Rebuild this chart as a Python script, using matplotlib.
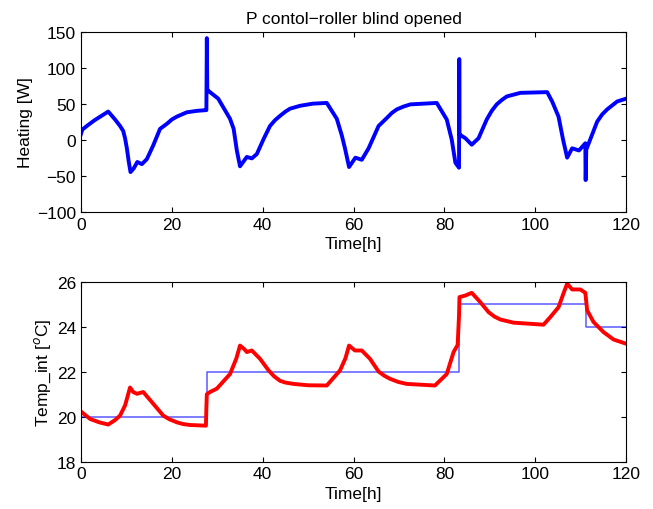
import matplotlib

matplotlib.use("Agg")
import matplotlib.pyplot as plt

# heating power [W]
heat_t = [0, 0.3, 1.5, 3.0, 4.5, 6.0, 7.5, 8.6, 9.3, 9.7, 10.1, 10.5, 10.9, 11.6, 12.4, 13.4,
          14.5, 15.9, 17.4, 18.9, 20.0, 21.1, 22.2, 23.3, 25.5, 27.5, 27.6, 27.7, 27.8, 28.0,
          30.2, 32.8, 33.6, 34.3, 35.0, 36.5, 37.6, 38.7, 40.2, 41.6, 42.7, 43.8, 45.0, 46.0,
          48.2, 51.0, 54.1, 56.3, 57.4, 58.1, 59.0, 60.4, 61.8, 63.3, 65.5, 67.3, 68.4,
          69.5, 71.0, 72.5, 78.3, 80.5, 81.6, 82.4, 83.2, 83.25, 83.3, 83.6, 84.6, 86.0,
          87.5, 89.3, 90.4, 91.5, 92.6, 93.7, 96.7, 102.6, 103.7, 105.1, 106.1, 107.0, 108.1,
          109.6, 111.0, 111.05, 111.1, 111.2, 113.6, 114.7, 115.8, 117.0, 118.0, 120.0]
heat_w = [8, 14, 20, 27, 33, 39, 28, 19, 12, 2, -12, -30, -45, -40, -31, -34,
          -27, -8, 15, 22, 28, 32, 35, 38, 40, 41, 41, 141, 68, 68,
          57, 29, 15, -15, -37, -24, -26, -20, 1, 19, 27, 33, 39, 43,
          47, 50, 51, 29, 6, -12, -38, -25, -28, -12, 19, 30, 37,
          42, 46, 49, 51, 28, 0, -32, -39, 112, 7, 6, 2, -7,
          2, 28, 40, 49, 55, 60, 65, 66, 53, 32, 0, -25, -12,
          -15, -5, -56, -56, -14, 25, 35, 42, 48, 53, 57]

# indoor temperature [C]
temp_t = [0, 2.0, 4.0, 6.0, 7.5, 8.6, 9.7, 10.8, 11.5, 12.3, 13.7, 15.6, 18.1, 19.5, 21.1,
          22.5, 24.0, 27.5, 27.6, 27.7, 28.4, 29.9, 32.8, 34.2, 35.0, 36.0, 36.5, 37.6,
          39.4, 41.3, 42.5, 43.8, 45.0, 46.8, 50.0, 54.1, 57.0, 58.2, 59.0, 60.3, 61.8,
          63.6, 65.5, 66.8, 68.0, 69.8, 71.7, 77.9, 80.5, 82.0, 82.9, 83.2, 83.3, 84.6,
          86.0, 87.9, 89.7, 91.0, 92.3, 95.2, 101.8, 103.3, 105.1, 106.2, 107.0, 108.1,
          109.9, 111.0, 111.4, 112.8, 115.0, 117.2, 120.0]
temp_c = [20.23, 19.9, 19.75, 19.65, 19.85, 20.05, 20.5, 21.3, 21.1, 21.02, 21.1, 20.65,
          20.05, 19.88, 19.75, 19.67, 19.63, 19.6, 20.4, 21.0, 21.1, 21.25, 21.9, 22.6,
          23.17, 23.0, 22.88, 22.95, 22.58, 22.06, 21.8, 21.6, 21.52, 21.46, 21.4, 21.39,
          22.06, 22.6, 23.17, 22.95, 22.95, 22.58, 22.01, 21.82, 21.69, 21.55, 21.46,
          21.39, 21.9, 22.88, 23.2, 24.5, 25.33, 25.4, 25.52, 25.1, 24.66, 24.46, 24.33,
          24.19, 24.1, 24.44, 24.88, 25.5, 25.93, 25.67, 25.67, 25.52, 24.74, 24.22,
          23.77, 23.44, 23.25]

# set point steps
sp_t = [0, 27.7, 83.3, 111.1, 120]
sp_c = [20, 22, 25, 24, 24]

plt.rcParams.update({
    "font.family": ["Liberation Sans", "DejaVu Sans"],
    "font.size": 12.5,
    "xtick.direction": "in",
    "ytick.direction": "in",
    "xtick.top": True,
    "ytick.right": True,
    "axes.linewidth": 0.8,
})

fig = plt.figure(figsize=(6.53, 5.10), dpi=100)
ax1 = fig.add_axes([0.124, 0.583, 0.835, 0.353])
ax2 = fig.add_axes([0.124, 0.093, 0.835, 0.352])

ax1.plot(heat_t, heat_w, color="#0000ff", linewidth=2.8, solid_joinstyle="round")
ax1.set_xlim(0, 120)
ax1.set_ylim(-100, 150)
ax1.set_xticks(range(0, 121, 20))
ax1.set_yticks(range(-100, 151, 50))
ax1.set_xlabel("Time[h]", labelpad=3)
ax1.set_ylabel("Heating [W]", labelpad=3)
ax1.set_title("P contol\u2212roller blind opened", fontsize=12.5, pad=6)

ax2.step(sp_t, sp_c, where="post", color="#0000ff", linewidth=1.1, alpha=0.65)
ax2.plot(temp_t, temp_c, color="#ff0000", linewidth=2.8, solid_joinstyle="round")
ax2.set_xlim(0, 120)
ax2.set_ylim(18, 26)
ax2.set_xticks(range(0, 121, 20))
ax2.set_yticks(range(18, 27, 2))
ax2.set_xlabel("Time[h]", labelpad=3)
ax2.set_ylabel("Temp_int [$^{o}$C]", labelpad=3)

fig.savefig("out.png", dpi=100, facecolor="white")
